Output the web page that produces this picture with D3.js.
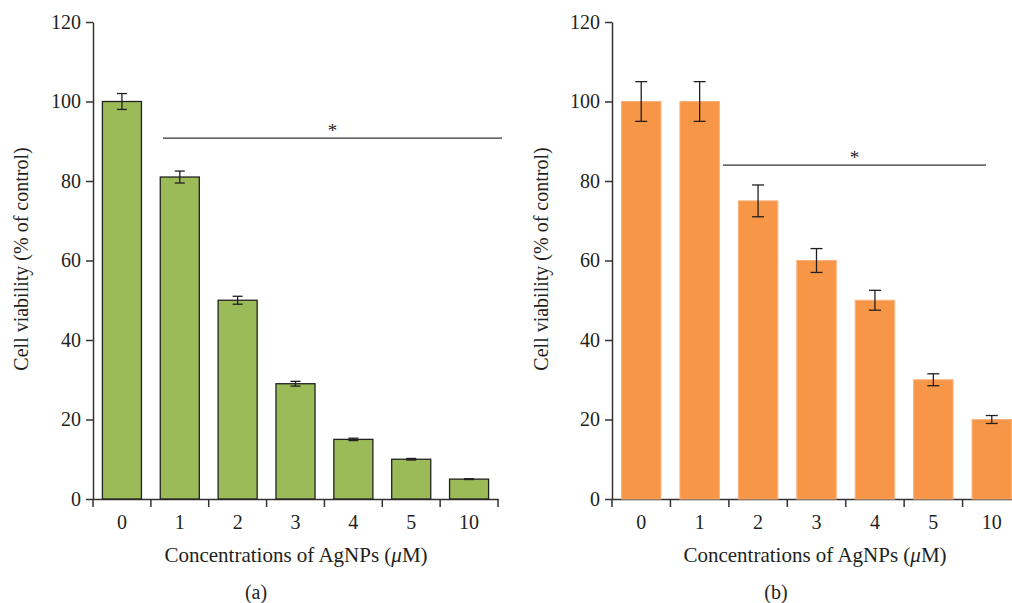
<!DOCTYPE html>
<html>
<head>
<meta charset="utf-8">
<style>
body { margin: 0; background: #fff; }
text { font-family: "Liberation Serif", "DejaVu Serif", serif; fill: #231f20; }
.axis path, .axis line { stroke: #333; stroke-width: 1.5px; }
</style>
</head>
<body>
<script src="https://cdn.jsdelivr.net/npm/d3@7"></script>
<script>

// data
var categories = ["0", "1", "2", "3", "4", "5", "10"];
var valuesA = [100, 81, 50, 29, 15, 10, 5];
var errorsA = [2, 1.5, 1, 0.6, 0.3, 0.2, 0.1];
var valuesB = [100, 100, 75, 60, 50, 30, 20];
var errorsB = [5, 5, 4, 3, 2.5, 1.5, 1];
var yTicks = [0, 20, 40, 60, 80, 100, 120];

var svg = d3.select("body").append("svg")
    .attr("width", 1012)
    .attr("height", 603);

function panel(opt) {
  var x = d3.scaleBand()
      .domain(categories)
      .range([opt.x0, opt.x1])
      .padding(0);

  var y = d3.scaleLinear()
      .domain([0, 120])
      .range([499, 22]);

  var g = svg.append("g");

  // axes
  g.append("g")
      .attr("class", "axis")
      .attr("transform", "translate(" + opt.x0 + ",0)")
      .call(d3.axisLeft(y).tickValues(yTicks).tickSize(7).tickSizeOuter(0))
      .call(function(a) {
        a.selectAll("text").attr("font-size", 20).attr("x", -12);
      });

  var xa = g.append("g")
      .attr("class", "axis")
      .attr("transform", "translate(0,499)")
      .call(d3.axisBottom(x).tickSize(0).tickSizeOuter(0));
  xa.selectAll("text").attr("font-size", 20).attr("dy", 0).attr("y", 30);
  // tick marks at band boundaries
  xa.selectAll(".bound")
      .data(categories.concat(["end"]))
      .enter().append("line")
      .attr("x1", function(d, i) { return opt.x0 + i * x.step(); })
      .attr("x2", function(d, i) { return opt.x0 + i * x.step(); })
      .attr("y1", 0).attr("y2", 8);

  var bw = x.bandwidth() * 0.675;

  // bars
  g.selectAll(".bar")
      .data(opt.values)
      .enter().append("rect")
      .attr("x", function(d, i) { return x(categories[i]) + (x.bandwidth() - bw) / 2; })
      .attr("y", function(d) { return y(d); })
      .attr("width", bw)
      .attr("height", function(d) { return y(0) - y(d); })
      .attr("fill", opt.fill)
      .attr("stroke", opt.stroke)
      .attr("stroke-width", opt.strokeWidth);

  // error bars
  var eb = g.selectAll(".err")
      .data(opt.values)
      .enter().append("g")
      .attr("stroke", "#231f20")
      .attr("stroke-width", 1.3);
  eb.append("line")
      .attr("x1", function(d, i) { return x(categories[i]) + x.bandwidth() / 2; })
      .attr("x2", function(d, i) { return x(categories[i]) + x.bandwidth() / 2; })
      .attr("y1", function(d, i) { return y(d + opt.errors[i]); })
      .attr("y2", function(d, i) { return y(d - opt.errors[i]); });
  [1, -1].forEach(function(s) {
    eb.append("line")
        .attr("x1", function(d, i) { return x(categories[i]) + x.bandwidth() / 2 - opt.cap; })
        .attr("x2", function(d, i) { return x(categories[i]) + x.bandwidth() / 2 + opt.cap; })
        .attr("y1", function(d, i) { return y(d + s * opt.errors[i]); })
        .attr("y2", function(d, i) { return y(d + s * opt.errors[i]); });
  });

  // significance line
  g.append("line")
      .attr("x1", opt.sigX0).attr("x2", opt.sigX1)
      .attr("y1", y(opt.sigY)).attr("y2", y(opt.sigY))
      .attr("stroke", "#333").attr("stroke-width", 1.3);
  g.append("text")
      .attr("x", (opt.sigX0 + opt.sigX1) / 2)
      .attr("y", y(opt.sigY) - 1)
      .attr("text-anchor", "middle")
      .attr("font-size", 19)
      .text("*");

  // titles
  g.append("text")
      .attr("transform", "translate(" + opt.ylabX + ",259) rotate(-90)")
      .attr("text-anchor", "middle")
      .attr("font-size", 20)
      .text("Cell viability (% of control)");

  var xt = g.append("text")
      .attr("x", opt.xTitleX)
      .attr("y", 562)
      .attr("text-anchor", "middle")
      .attr("font-size", 21);
  xt.append("tspan").text("Concentrations of AgNPs (");
  xt.append("tspan").attr("font-style", "italic").text("\u03bc");
  xt.append("tspan").text("M)");

  g.append("text")
      .attr("x", opt.panelX)
      .attr("y", 599)
      .attr("text-anchor", "middle")
      .attr("font-size", 20)
      .text(opt.panel);
}

panel({
  x0: 93, x1: 498,
  values: valuesA, errors: errorsA,
  fill: "#9bbb59", stroke: "#222", strokeWidth: 1.3,
  cap: 5,
  sigX0: 163, sigX1: 502, sigY: 90.8,
  ylabX: 28, xTitleX: 296, panelX: 256, panel: "(a)"
});

panel({
  x0: 612, x1: 1021,
  values: valuesB, errors: errorsB,
  fill: "#f79646", stroke: "#fab17d", strokeWidth: 1,
  cap: 6,
  sigX0: 723, sigX1: 986, sigY: 84,
  ylabX: 548, xTitleX: 815, panelX: 776, panel: "(b)"
});

</script>
</body>
</html>
